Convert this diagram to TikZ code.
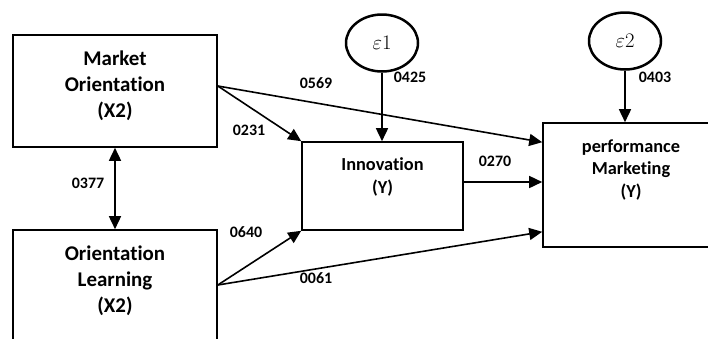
\documentclass[tikz,border=0pt]{standalone}
\usepackage{fontspec}
\setmainfont{Carlito}[Ligatures=NoCommon,RawFeature={-liga;-dlig;-clig}]
\usetikzlibrary{arrows.meta,shapes.geometric}
\begin{document}
\begin{tikzpicture}[x=1bp,y=-1bp,
 box/.style={draw, line width=1.6bp, inner sep=0pt},
 conn/.style={line width=1.6bp, -{Triangle[length=13bp,width=12bp]}},
 dconn/.style={line width=1.6bp, {Triangle[length=13bp,width=12bp]}-{Triangle[length=13bp,width=12bp]}},
 lbl/.style={font=\fontsize{16}{19}\selectfont\bfseries, inner sep=0pt},
 bigtxt/.style={font=\fontsize{21}{26}\selectfont\bfseries, align=center, inner sep=0pt},
 midtxt/.style={font=\fontsize{18.4}{22.5}\selectfont\bfseries, align=center, inner sep=0pt},
 err/.style={draw, ellipse, line width=2.5bp, minimum width=72bp, minimum height=57bp, inner sep=0pt, font=\fontsize{21}{24}\selectfont}]
\useasboundingbox (0,0) rectangle (708,338);
\clip (0,0) rectangle (708,338);

% boxes
\node[box, minimum width=204bp, minimum height=112bp] (mo) at (115,91) {};
\node[bigtxt] (mot) at (115,86) {Market\\Orientation\\(X2)};
\node[box, minimum width=204bp, minimum height=170bp] (ol) at (115,315) {};
\node[bigtxt] (olt) at (115,281) {Orientation\\Learning\\(X2)};
\node[box, minimum width=161bp, minimum height=88bp] (inn) at (382.5,186) {};
\node[midtxt] (innt) at (382.5,177) {Innovation\\(Y)};
\node[box, minimum width=176bp, minimum height=124bp] (pm) at (631,185) {};
\node[midtxt] (pmt) at (631,170) {performance\\Marketing\\(Y)};

% error terms
\node[err] (e1) at (382,43) {$\varepsilon 1$};
\node[err] (e2) at (625,41) {$\varepsilon 2$};

% coordinates
\coordinate (moe) at ([yshift=5bp]mo.east);
\coordinate (ole) at ([yshift=30bp]ol.east);
\coordinate (ine) at ([yshift=4bp]inn.east);

% connectors
\draw[dconn] (mo.south) -- (ol.north);
\draw[conn] (moe) -- (inn.north west);
\draw[conn] (moe) -- ([yshift=-20bp]pm.north west);
\draw[conn] (ine) -- (ine -| pm.west);
\draw[conn] (ole) -- (inn.south west);
\draw[conn] (ole) -- ([yshift=16bp]pm.south west);
\draw[conn] (e1.south) -- (e1.south |- inn.north);
\draw[conn] (e2.south) -- (e2.south |- pm.north);

% labels
\node[lbl] (l377) at (88,183) {0377};
\node[lbl] (l231) at (249,130) {0231};
\node[lbl] (l569) at (316,83) {0569};
\node[lbl] (l640) at (246,232) {0640};
\node[lbl] (l061) at (316,278) {0061};
\node[lbl] (l270) at (495,161) {0270};
\node[lbl] (l425) at (410,77) {0425};
\node[lbl] (l403) at (655,77) {0403};
\end{tikzpicture}
\end{document}
